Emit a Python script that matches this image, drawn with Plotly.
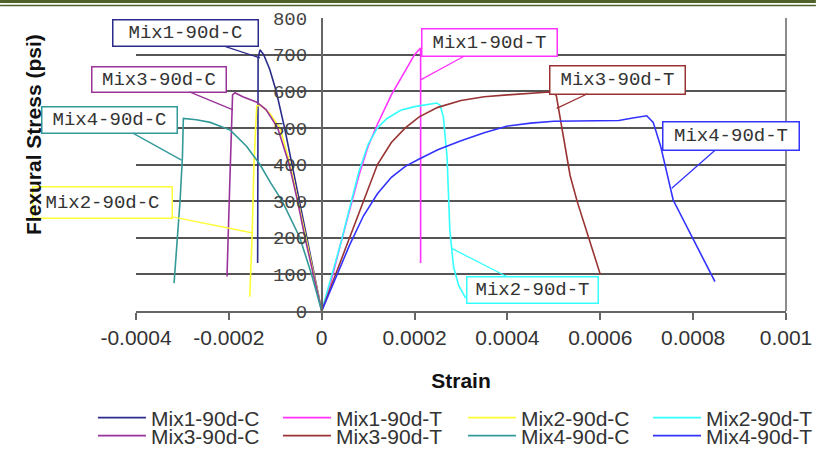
import plotly.graph_objects as go

# ---------------- data ----------------
x_tick_vals = [-0.0004, -0.0002, 0, 0.0002, 0.0004, 0.0006, 0.0008, 0.001]
x_tick_text = ["-0.0004", "-0.0002", "0", "0.0002", "0.0004", "0.0006", "0.0008", "0.001"]
y_tick_vals = [0, 100, 200, 300, 400, 500, 600, 700, 800]
y_tick_text = ["0", "100", "200", "300", "400", "500", "600", "700", "800"]

series_names = ["Mix1-90d-C", "Mix1-90d-T", "Mix2-90d-C", "Mix2-90d-T",
                "Mix3-90d-C", "Mix3-90d-T", "Mix4-90d-C", "Mix4-90d-T"]

mix1_c_strain = [0, -0.000016, -0.000032, -0.000047, -0.000064, -0.00008, -0.000098,
                 -0.000112, -0.000125, -0.000133, -0.000137, -0.000138, -0.000138]
mix1_c_stress = [0, 100, 200, 300, 400, 500, 600, 660, 700, 713, 690, 400, 131]

mix1_t_strain = [0, 0.00002, 0.00004, 0.00006, 0.00008, 0.0001, 0.00012, 0.00015,
                 0.00018, 0.0002, 0.000213, 0.000213]
mix1_t_stress = [0, 80, 180, 275, 370, 450, 510, 590, 655, 700, 718, 131]

mix2_c_strain = [0, -0.000017, -0.000034, -0.00005, -0.000068, -0.00009, -0.000112,
                 -0.000132, -0.00014, -0.000146, -0.00015, -0.000155]
mix2_c_stress = [0, 100, 200, 300, 400, 500, 540, 562, 560, 400, 200, 39]

mix2_t_strain = [0, 0.00002, 0.00004, 0.00006, 0.00008, 0.0001, 0.00012, 0.00014,
                 0.00017, 0.0002, 0.00023, 0.000248, 0.000255, 0.000262, 0.00027,
                 0.000276, 0.000284, 0.000295, 0.00031]
mix2_t_stress = [0, 90, 180, 280, 380, 455, 500, 525, 548, 558, 565, 568, 562, 530,
                 420, 220, 120, 70, 35]

mix3_c_strain = [0, -0.000018, -0.000036, -0.000052, -0.00007, -0.000095, -0.00012,
                 -0.00014, -0.00017, -0.000187, -0.000192, -0.000198, -0.000204]
mix3_c_stress = [0, 100, 200, 300, 400, 500, 550, 570, 585, 596, 590, 350, 94]

mix3_t_strain = [0, 0.00003, 0.00006, 0.00009, 0.00012, 0.00015, 0.00018, 0.00021,
                 0.00025, 0.0003, 0.00035, 0.0004, 0.00045, 0.00049, 0.000505,
                 0.00052, 0.000535, 0.00055, 0.0006]
mix3_t_stress = [0, 100, 200, 300, 400, 460, 500, 530, 556, 575, 585, 590, 594, 598,
                 590, 480, 370, 300, 100]

mix4_c_strain = [0, -0.000022, -0.000047, -0.000085, -0.00011, -0.000133, -0.000162,
                 -0.000197, -0.00024, -0.00027, -0.000298, -0.0003, -0.000305,
                 -0.000312, -0.000318]
mix4_c_stress = [0, 100, 200, 300, 350, 400, 450, 494, 515, 522, 526, 421, 303, 167, 76]

mix4_t_strain = [0, 0.00003, 0.00006, 0.00009, 0.00012, 0.00015, 0.00018, 0.00021,
                 0.00025, 0.0003, 0.00035, 0.0004, 0.00045, 0.0005, 0.0006, 0.00064,
                 0.00067, 0.0007, 0.000714, 0.00073, 0.000757, 0.000794, 0.000847]
mix4_t_stress = [0, 90, 180, 260, 320, 365, 395, 415, 440, 465, 487, 505, 513, 518,
                 519, 520, 527, 533, 515, 450, 303, 212, 80]

# ---------------- styling ----------------
colors = ["#2b2b8c", "#ff33ff", "#ffff33", "#33ffff",
          "#993399", "#993333", "#339999", "#3333ff"]

strains = [mix1_c_strain, mix1_t_strain, mix2_c_strain, mix2_t_strain,
           mix3_c_strain, mix3_t_strain, mix4_c_strain, mix4_t_strain]
stresses = [mix1_c_stress, mix1_t_stress, mix2_c_stress, mix2_t_stress,
            mix3_c_stress, mix3_t_stress, mix4_c_stress, mix4_t_stress]

# legend slot of each series: (column paper-x, row paper-y)
legend_cols = [-0.0662, 0.2184, 0.5030, 0.7877]
legend_rows = [-0.3652, -0.4266]
legend_slots = [(0, 0), (1, 0), (2, 0), (3, 0), (0, 1), (1, 1), (2, 1), (3, 1)]

# callout placement: (tip strain, tip stress, box-centre strain, box-centre stress)
callouts = [
    (-0.000133, 691, -0.000294, 758),
    (0.000213, 631, 0.000361, 733),
    (-0.000148, 213, -0.000472, 295),
    (0.000280, 171, 0.000454, 58),
    (-0.000191, 549, -0.000351, 633),
    (0.000506, 553, 0.000637, 632),
    (-0.000302, 412, -0.000458, 522),
    (0.000754, 335, 0.000882, 478),
]
# callout box sizes in px (width, height)
callout_sizes = [(140, 21), (130, 22), (134, 26), (126, 21),
                 (129, 20), (130, 23), (130, 21), (131, 23)]

fig = go.Figure()
legend_layouts = {}
for i, (name, xs, ys, col) in enumerate(zip(series_names, strains, stresses, colors)):
    key = "legend" if i == 0 else "legend%d" % (i + 1)
    fig.add_trace(go.Scatter(x=xs, y=ys, mode="lines", name=name,
                             line=dict(color=col, width=1.6), legend=key))
    c, r = legend_slots[i]
    legend_layouts[key] = dict(
        x=legend_cols[c], y=legend_rows[r], xanchor="left", yanchor="middle",
        orientation="h", itemwidth=48, bgcolor="rgba(0,0,0,0)",
        font=dict(family="Liberation Sans", size=21, color="#333333"))

annotations = []
for name, col, (tx, ty, bx, by), (bw, bh) in zip(series_names, colors, callouts,
                                                 callout_sizes):
    annotations.append(dict(
        x=tx, y=ty, ax=bx, ay=by, xref="x", yref="y", axref="x", ayref="y",
        text=name, showarrow=True, arrowhead=0, arrowwidth=1.3, arrowcolor=col,
        bordercolor=col, borderwidth=1.5, borderpad=2, bgcolor="white",
        width=bw, height=bh, align="center",
        font=dict(family="Liberation Mono", size=19, color="#333333")))

annotations.append(dict(
    x=-0.1585, y=0.604, xref="paper", yref="paper", text="Flexural Stress (psi)",
    textangle=-90, showarrow=False, xanchor="center", yanchor="middle",
    font=dict(family="Liberation Sans", size=21, color="#111111", weight="bold")))

shapes = [
    dict(type="line", xref="paper", yref="paper", x0=1, x1=1, y0=0, y1=1,
         line=dict(color="#666666", width=1.5)),
    dict(type="rect", xref="paper", yref="paper", x0=-0.2092, x1=1.046,
         y0=1.0512, y1=1.0614, line=dict(width=0), fillcolor="#4f6228"),
    dict(type="line", xref="paper", yref="paper", x0=-0.2092, x1=1.046,
         y0=1.0427, y1=1.0427, line=dict(color="#4f6228", width=1.5)),
]

fig.update_layout(
    width=816, height=452,
    margin=dict(l=136, r=30, t=18, b=141, autoexpand=False),
    paper_bgcolor="white", plot_bgcolor="white",
    showlegend=True,
    xaxis=dict(range=[-0.0004, 0.001], tickvals=x_tick_vals, ticktext=x_tick_text,
               showgrid=False, zeroline=False, showline=True, linecolor="#666666",
               linewidth=2, ticks="outside", ticklen=7, tickwidth=1.5,
               tickcolor="#666666",
               tickfont=dict(family="Liberation Sans", size=21, color="#333333"),
               title=dict(text="Strain", standoff=25,
                          font=dict(family="Liberation Sans", size=21,
                                    color="#111111", weight="bold"))),
    yaxis=dict(range=[0, 800], tickvals=y_tick_vals, ticktext=y_tick_text,
               anchor="free", position=0.2857, showgrid=True, gridcolor="#555555",
               gridwidth=1.5, zeroline=False, showline=True, linecolor="#666666",
               linewidth=1.5, ticks="", ticklabelstandoff=10,
               tickfont=dict(family="Liberation Mono", size=19, color="#444444")),
    annotations=annotations,
    shapes=shapes,
    **legend_layouts,
)

fig.write_html("out.html", config={"displayModeBar": False},
               post_script="document.body.style.margin='0';document.body.style.overflow='hidden';")
